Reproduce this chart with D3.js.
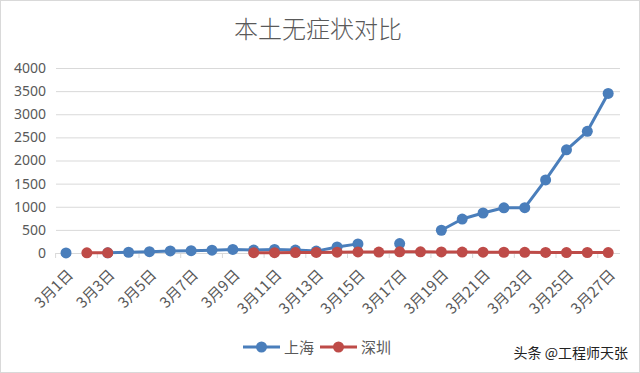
<!DOCTYPE html>
<html>
  <head>
    <meta charset="utf-8" />
    <style>
      body {
        margin: 0;
        background: #fff;
      }
      text {
        font-family: "Noto Sans CJK SC", "Noto Sans", sans-serif;
        fill: #595959;
      }
    </style>
  </head>
  <body>
    <svg width="640" height="373"></svg>
  </body>
  <script src="https://d3js.org/d3.v7.min.js"></script>
  <script>
    // categories: 3月1日 .. 3月27日
    let days = d3.range(1, 28).map((d) => `3月${d}日`);

    // null = no value that day (gap in the line)
    let shanghai = [
      1, null, 3, 16, 28, 45, 51, 62, 76, 64, 78, 64, 41, 130, 197, null, 203,
      null, 492, 734, 865, 977, 979, 1580, 2231, 2631, 3450,
    ];
    let shenzhen = [
      null, 5, 4, null, null, null, null, null, null, 8, 7, 9, 12, 18, 22, 20,
      25, 26, 24, 20, 18, 16, 14, 12, 10, 11, 9,
    ];

    let yTicks = [0, 500, 1000, 1500, 2000, 2500, 3000, 3500, 4000];
    let seriesNames = ["上海", "深圳"];
    let colors = ["#4a7ebb", "#be4b48"];

    let svg = d3.select("svg");

    // outer frame
    svg
      .append("rect")
      .attr("x", 0.5)
      .attr("y", 0.5)
      .attr("width", 639)
      .attr("height", 372)
      .attr("fill", "none")
      .attr("stroke", "#d9d9d9");

    let margin = { top: 68, right: 20, bottom: 120, left: 56 };

    let x = d3
      .scaleBand()
      .domain(days)
      .range([55.6, 618.6]);

    let y = d3.scaleLinear().domain([0, 4000]).range([253, 68]);

    // title
    svg
      .append("text")
      .attr("x", 318)
      .attr("y", 38)
      .attr("text-anchor", "middle")
      .style("font-size", "24px")
      .style("font-weight", 300)
      .text("本土无症状对比");

    // y grid + labels
    let yAxis = svg
      .append("g")
      .attr("transform", `translate(${margin.left}, 0)`)
      .call(
        d3
          .axisLeft(y)
          .tickValues(yTicks)
          .tickFormat(d3.format("d"))
          .tickSize(-(620 - margin.left))
          .tickPadding(10)
      );
    yAxis.select(".domain").remove();
    yAxis.selectAll(".tick line").attr("stroke", "#d9d9d9");
    yAxis
      .selectAll(".tick text")
      .style("font-size", "14px")
      .style("fill", "#595959")
      .style("font-family", '"Noto Sans", sans-serif');

    // x axis
    let xAxis = svg
      .append("g")
      .attr("transform", `translate(0, ${y(0)})`)
      .call(d3.axisBottom(x).tickSize(0).tickFormat(() => ""));
    xAxis.select(".domain").attr("stroke", "#d9d9d9");

    // tick marks on every second category boundary
    let bounds = d3.range(0, days.length + 1, 2).map((i) =>
      i < days.length ? x(days[i]) : x(days[days.length - 1]) + x.bandwidth()
    );
    xAxis
      .selectAll(".bound")
      .data(bounds)
      .join("line")
      .attr("class", "bound")
      .attr("x1", (d) => d)
      .attr("x2", (d) => d)
      .attr("y1", 0)
      .attr("y2", 5)
      .attr("stroke", "#d9d9d9");

    // rotated labels for odd days
    svg
      .append("g")
      .selectAll("text")
      .data(days.filter((d, i) => i % 2 == 0))
      .join("text")
      .attr("text-anchor", "end")
      .attr(
        "transform",
        (d) => `translate(${x(d) + x.bandwidth() / 2 + 8}, 276) rotate(-45)`
      )
      .style("font-size", "15px")
      .text((d) => d);

    // lines
    let cx = (i) => x(days[i]) + x.bandwidth() / 2;
    let line = d3
      .line()
      .defined((d) => d != null)
      .x((d, i) => cx(i))
      .y((d) => y(d));

    [shanghai, shenzhen].forEach((values, s) => {
      let g = svg.append("g");
      g.append("path")
        .attr("d", line(values))
        .attr("fill", "none")
        .attr("stroke", colors[s])
        .attr("stroke-width", 3)
        .attr("stroke-linejoin", "round");
      g.selectAll("circle")
        .data(values.map((v, i) => [i, v]).filter((d) => d[1] != null))
        .join("circle")
        .attr("cx", (d) => cx(d[0]))
        .attr("cy", (d) => y(d[1]))
        .attr("r", 5.5)
        .attr("fill", colors[s]);
    });

    // legend
    let legend = svg.append("g").attr("transform", "translate(0, 347)");
    let legendX = [243, 320];
    seriesNames.forEach((name, s) => {
      let lg = legend.append("g").attr("transform", `translate(${legendX[s]}, 0)`);
      lg.append("line")
        .attr("x1", 0)
        .attr("x2", 37)
        .attr("stroke", colors[s])
        .attr("stroke-width", 3);
      lg.append("circle").attr("cx", 18.5).attr("r", 5.5).attr("fill", colors[s]);
      lg.append("text")
        .attr("x", 41)
        .attr("y", 6)
        .style("font-size", "15px")
        .text(name);
    });

    // watermark
    svg
      .append("text")
      .attr("x", 628)
      .attr("y", 358)
      .attr("text-anchor", "end")
      .style("font-size", "14px")
      .style("fill", "#222")
      .style("paint-order", "stroke")
      .style("stroke", "#fff")
      .style("stroke-width", 2)
      .text("头条 @工程师天张");
  </script>
</html>
